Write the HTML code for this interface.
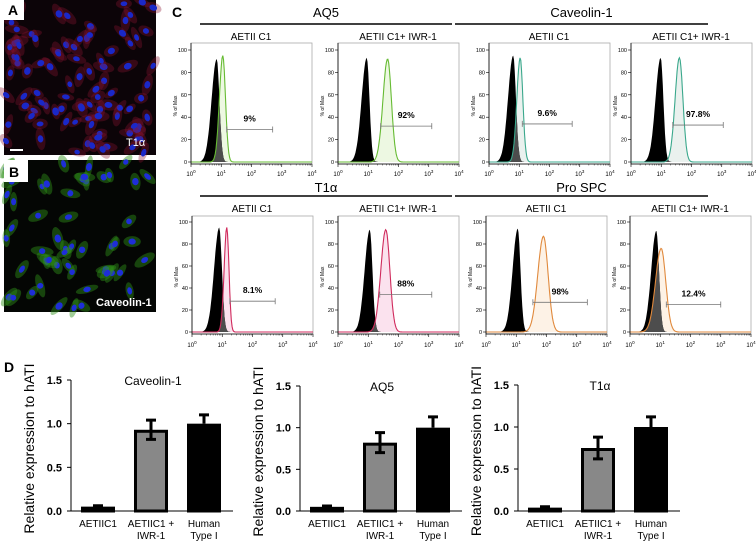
<!DOCTYPE html>
<html><head><meta charset="utf-8">
<style>
html,body{margin:0;padding:0;background:#fff;}
svg{display:block;font-family:"Liberation Sans",Arial,sans-serif;}
</style></head>
<body>
<svg id="fig" width="756" height="542" viewBox="0 0 756 542" xmlns="http://www.w3.org/2000/svg">
<g id="micro">
  <rect x="4" y="0" width="152" height="155" fill="#0c0408"/>
  <rect x="4" y="160" width="152" height="152" fill="#040604"/>
  <g id="cellsA"></g><g id="cellsB"></g>
  <rect x="4" y="0" width="20" height="20" fill="#fff"/>
  <text x="8" y="15" font-size="14" font-weight="bold">A</text>
  <rect x="4" y="160" width="24" height="22" fill="#fff"/>
  <text x="9" y="177" font-size="14" font-weight="bold">B</text>
  <rect x="10" y="149" width="13" height="2" fill="#fff"/>
  <text x="126" y="146" font-size="11" fill="#fff">T1α</text>
  <text x="96" y="306" font-size="11" font-weight="bold" fill="#fff">Caveolin-1</text>
</g>
<text x="172" y="17" font-size="14" font-weight="bold">C</text>
<text x="4" y="372" font-size="14" font-weight="bold">D</text>
<g id="flow"></g>
<g id="bars"></g>
</svg>
<script>
const NS="http://www.w3.org/2000/svg";
// ---- flow data ----
const flowGroups=["AQ5","Caveolin-1","T1α","Pro SPC"];
const flowTitles=["AETII C1","AETII C1+ IWR-1","AETII C1","AETII C1+ IWR-1","AETII C1","AETII C1+ IWR-1","AETII C1","AETII C1+ IWR-1"];
const ctrlPeak=[0.85,0.95,0.8,0.98,0.9,1.05,1.05,0.87];
const ctrlHeight=[92,93,95,93,95,93,94,92];
const samplePeak=[1.05,1.64,1.03,1.6,1.15,1.58,1.9,1.03];
const sampleHeight=[95,92,93,93,95,93,87,76];
const sampleSpread=[0.1,0.14,0.1,0.13,0.08,0.15,0.17,0.17];
const gateStart=[1.18,1.41,1.1,1.38,1.25,1.38,1.55,1.2];
const gateEnd=[2.7,3.1,2.75,3.05,2.75,3.1,3.35,3.0];
const gateLevel=[29,32,34,33,28,34,27,25];
const gatePercent=["9%","92%","9.6%","97.8%","8.1%","88%","98%","12.4%"];
const yTicks=[0,20,40,60,80,100];
const xDecades=[0,1,2,3,4];

const colors=[["#66bb33","#edf8e2"],["#3aa88c","#eaf1ee"],["#d02a5c","#fbe2ee"],["#e0893c","#fdf2e6"]];
const plotLeft=[191,338,489,631,192,338,486,630];
const rowY=[[162,50,43,24,12,36,173],[332,222,216,196,187,208,344]];
const flow=document.getElementById('flow');
function mk(tag,attrs,parent){const e=document.createElementNS(NS,tag);for(const k in attrs)e.setAttribute(k,attrs[k]);(parent||flow).appendChild(e);return e;}
const hdr=[[200,452],[455,708],[200,452],[455,708]];
for(let g=0;g<4;g++){
  const r=rowY[g<2?0:1];
  const t=mk('text',{x:(hdr[g][0]+hdr[g][1])/2,y:r[4]+5,'font-size':13,'text-anchor':'middle'});
  
  
  t.textContent=flowGroups[g];
  const l=mk('line',{x1:hdr[g][0],x2:hdr[g][1],y1:r[3],y2:r[3],stroke:'#000','stroke-width':1.6});
  
  
}
function gauss(x,p,h,sl,sr){const s=x<p?sl:sr;return h*Math.exp(-0.5*((x-p)/s)**2);}
for(let i=0;i<8;i++){
  const r=rowY[i<4?0:1];const y0=r[0],y100=r[1];
  const L=plotLeft[i],R=L+121,dec=(R-L)/4;
  const X=v=>L+v*dec, Y=v=>y0-(v/100)*(y0-y100);
  const col=colors[Math.floor(i/2)];
  const g=mk('g',{});
  
  
  const st=mk('text',{x:L+60,y:r[5]+4,'font-size':10,'text-anchor':'middle'},g);
  
  
  st.textContent=flowTitles[i];
  const fr=mk('rect',{x:L,y:r[2],width:R-L,height:y0-r[2]+2,fill:'none',stroke:'#aaa','stroke-width':0.8},g);
  
  
  const N=160;let ctrlPts=[],smpPts=[],minPts=[];
  for(let k=0;k<=N;k++){const v=4*k/N;
    const c=gauss(v,ctrlPeak[i],ctrlHeight[i],0.17,0.09);
    const s=gauss(v,samplePeak[i],sampleHeight[i],sampleSpread[i]*1.1,sampleSpread[i]*0.9);
    ctrlPts.push([X(v),Y(c)]);smpPts.push([X(v),Y(s)]);minPts.push([X(v),Y(Math.min(c,s))]);}
  const poly=pts=>'M'+X(0)+','+y0+' '+pts.map(p=>'L'+p[0].toFixed(1)+','+p[1].toFixed(1)).join(' ')+' L'+X(4)+','+y0+'Z';
  const sf=mk('path',{d:poly(smpPts),fill:col[1],stroke:'none'},g);
  
  
  const cf=mk('path',{d:poly(ctrlPts),fill:'#000'},g);
  
  
  const ov=mk('path',{d:poly(minPts),fill:'#4d4d4d'},g);
  
  
  const so=mk('path',{d:'M'+smpPts.map(p=>p[0].toFixed(1)+','+p[1].toFixed(1)).join(' L'),fill:'none',stroke:col[0],'stroke-width':1.1},g);
  
  
  const ax=mk('path',{d:`M${L},${r[2]} L${L},${y0+2} L${R},${y0+2}`,fill:'none',stroke:'#000','stroke-width':0.8},g);
  
  
  yTicks.forEach(t=>{
    mk('line',{x1:L-3,x2:L,y1:Y(t),y2:Y(t),stroke:'#000','stroke-width':0.6},g);
    const tl=mk('text',{x:L-4,y:Y(t)+2,'font-size':5.5,'text-anchor':'end'},g);
    
    
    tl.textContent=t;
  });
  const yl=mk('text',{x:0,y:0,'font-size':5,'text-anchor':'middle',transform:`translate(${L-14},${(y0+y100)/2}) rotate(-90)`},g);
  
  
  yl.textContent='% of Max';
  xDecades.forEach(d=>{
    mk('line',{x1:X(d),x2:X(d),y1:y0+2,y2:y0+5,stroke:'#000','stroke-width':0.6},g);
    if(d<4)for(let m=2;m<10;m++){const xx=X(d+Math.log10(m));mk('line',{x1:xx,x2:xx,y1:y0+2,y2:y0+3.5,stroke:'#000','stroke-width':0.4},g);}
    const tl=mk('text',{x:X(d),y:r[6]+3,'font-size':6,'text-anchor':'middle'},g);
    
    
    tl.innerHTML='10<tspan dy="-3" font-size="4.5">'+d+'</tspan>';
  });
  const gy=Y(gateLevel[i]);
  const gt=mk('path',{d:`M${X(gateStart[i])},${gy} L${X(gateEnd[i])},${gy} M${X(gateStart[i])},${gy-3} L${X(gateStart[i])},${gy+3} M${X(gateEnd[i])},${gy-3} L${X(gateEnd[i])},${gy+3}`,stroke:'#777','stroke-width':0.8,fill:'none'},g);
  
  
  const gl=mk('text',{x:(X(gateStart[i])+X(gateEnd[i]))/2,y:gy-8,'font-size':8.5,'font-weight':'bold','text-anchor':'middle'},g);
  
  
  gl.textContent=gatePercent[i];
}
// ---- bar data ----
const barTitles=["Caveolin-1","AQ5","T1α"];
const barCategories=["AETIIC1","AETIIC1 +|IWR-1","Human|Type I"];
const cav=[0.05,0.93,1.0];
const cavErr=[0.01,0.11,0.1];
const aq5=[0.05,0.82,1.0];
const aq5Err=[0.01,0.12,0.13];
const t1a=[0.04,0.75,1.0];
const t1aErr=[0.01,0.13,0.12];
const barTicks=[0,0.5,1.0,1.5];
const barSeries=[cav,aq5,t1a],barErrs=[cavErr,aq5Err,t1aErr];
const bg=document.getElementById('bars');
const axisX=[71,300,518],top15=[380,386,385],base=511;
const fills=["#888","#888","#000"];
for(let p=0;p<3;p++){
  const A=axisX[p];const Y=v=>base-v/1.5*(base-top15[p]);
  const g=mk('g',{},bg);
  
  
  const tt=mk('text',{x:A+82,y:top15[p]+5,'font-size':12,'text-anchor':'middle'},g);
  
  
  tt.textContent=barTitles[p];
  const yl=mk('text',{x:0,y:0,'font-size':14,'text-anchor':'middle',transform:`translate(${A-37},${(base+top15[p])/2+3}) rotate(-90)`},g);
  
  
  yl.textContent='Relative expression to hATI';
  barTicks.forEach(t=>{
    mk('line',{x1:A-4,x2:A,y1:Y(t),y2:Y(t),stroke:'#000','stroke-width':1},g);
    const tl=mk('text',{x:A-9,y:Y(t)+4,'font-size':11,'font-weight':'bold','text-anchor':'end'},g);
    
    
    tl.textContent=t.toFixed(1);
  });
  const ax=mk('path',{d:`M${A},${Y(1.5)} L${A},${base} L${A+162},${base}`,fill:'none',stroke:'#000','stroke-width':1},g);
  
  
  barSeries[p].forEach((v,k)=>{
    const x0=A+10+k*53,w=34;
    const b=mk('rect',{x:x0+1.5,y:Y(v)+1.5,width:w-3,height:Math.max(base-Y(v)-1.5,0.5),fill:fills[k],stroke:'#000','stroke-width':3},g);
    
    
    const e=barErrs[p][k],cx=x0+w/2;
    const lo=k==1?v-e:v;
    const eb=mk('path',{d:`M${cx},${Y(v+e)} L${cx},${Y(lo)} M${cx-5},${Y(v+e)} L${cx+5},${Y(v+e)}`+(k==1?` M${cx-5},${Y(lo)} L${cx+5},${Y(lo)}`:''),stroke:'#000','stroke-width':3,fill:'none'},g);
    
    
    const parts=barCategories[k].split('|');
    parts.forEach((s,j)=>{
      const cl=mk('text',{x:cx,y:527+j*12,'font-size':10,'text-anchor':'middle'},g);
      
      
      cl.textContent=s;
    });
  });
}
// ---- micrograph texture (decorative) ----
let seed=7;function rnd(){seed=(seed*16807)%2147483647;return seed/2147483647;}
function cells(id,y0,h,cyto,op,nuc,n){
  const grp=document.getElementById(id);
  for(let i=0;i<n;i++){const x=6+rnd()*148,y=y0+2+rnd()*(h-4),a=rnd()*180;
    mk('ellipse',{cx:x,cy:y,rx:7+rnd()*5,ry:3.5+rnd()*2,fill:cyto,opacity:op,transform:`rotate(${a} ${x} ${y})`},grp);
    mk('ellipse',{cx:x,cy:y,rx:2.8+rnd()*1.3,ry:2.3+rnd(),fill:nuc,transform:`rotate(${a} ${x} ${y})`},grp);}
}
cells('cellsA',0,155,'#8a1530',0.35,'#1a28c8',95);
cells('cellsB',160,152,'#2e9018',0.45,'#1e2ed8',55);
</script>
</body></html>
